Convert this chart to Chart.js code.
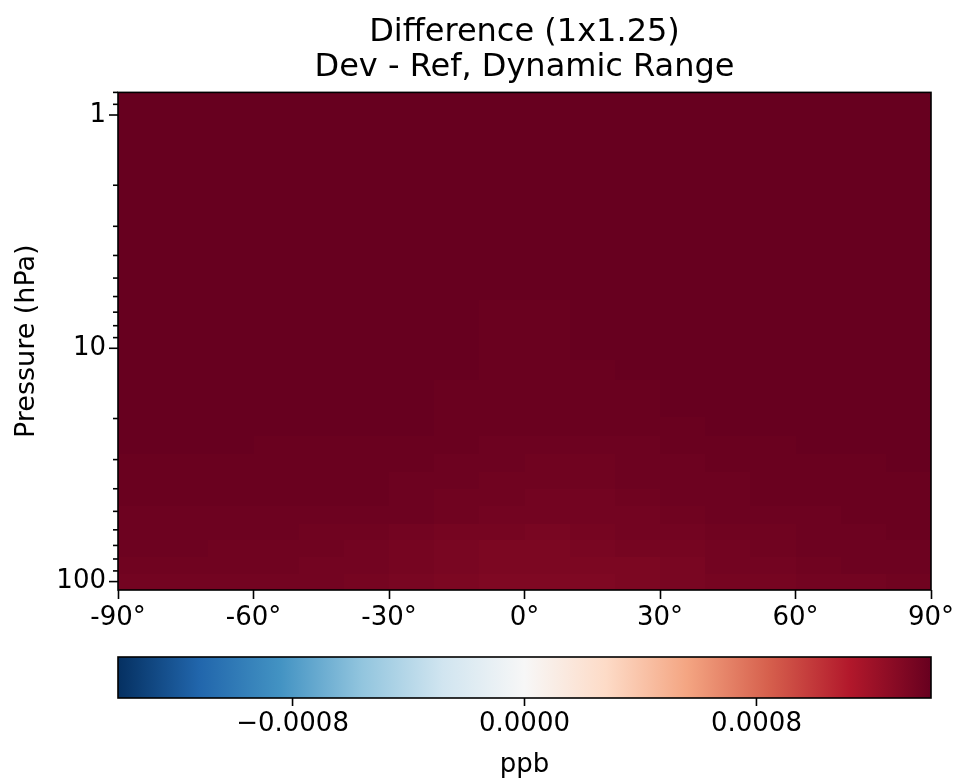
<!DOCTYPE html>
<html>
<head>
<meta charset="utf-8">
<script src="https://cdn.jsdelivr.net/npm/chart.js@4.4.1/dist/chart.umd.min.js"></script>
<style>
  body { margin: 0; background: #fff; }
  #chart { display: block; }
</style>
</head>
<body>
<canvas id="chart" width="955" height="783"></canvas>
<script>
// latitude band edges (deg), south to north
const latitudeEdges = [-90, -80, -70, -60, -50, -40, -30, -20, -10, 0, 10, 20, 30, 40, 50, 60, 70, 80, 90];

// pressure band edges (hPa), bottom to top
const pressureEdges = [108.66, 92.37, 78.51, 66.60, 56.39, 47.64, 40.18, 33.81, 28.37, 23.72, 19.79, 16.46, 13.64,
    11.28, 9.29, 7.63, 6.22, 5.05, 4.07, 3.28, 2.62, 2.09, 1.65, 1.30, 1.01, 0.80];

// Dev - Ref difference in 1e-6 ppb, one row per pressure band (bottom to top), one value per latitude band
const diffRows = [
    [1357, 1357, 1357, 1357, 1350, 1342, 1327, 1316, 1312, 1309, 1309, 1316, 1327, 1338, 1346, 1353, 1353, 1361],
    [1361, 1365, 1368, 1368, 1357, 1353, 1346, 1335, 1324, 1320, 1320, 1324, 1335, 1350, 1353, 1365, 1372, 1376],
    [1376, 1372, 1368, 1368, 1361, 1353, 1346, 1335, 1324, 1324, 1327, 1338, 1346, 1357, 1365, 1372, 1376, 1380],
    [1376, 1376, 1376, 1376, 1368, 1365, 1357, 1346, 1338, 1335, 1342, 1350, 1357, 1365, 1368, 1376, 1380, 1383],
    [1380, 1380, 1380, 1380, 1380, 1380, 1372, 1361, 1353, 1350, 1350, 1357, 1365, 1372, 1380, 1380, 1383, 1383],
    [1383, 1383, 1383, 1383, 1383, 1383, 1376, 1368, 1361, 1357, 1357, 1365, 1372, 1376, 1383, 1383, 1387, 1387],
    [1387, 1387, 1387, 1387, 1387, 1383, 1380, 1372, 1365, 1361, 1365, 1372, 1376, 1380, 1387, 1387, 1391, 1391],
    [1391, 1391, 1391, 1387, 1387, 1387, 1383, 1376, 1372, 1368, 1368, 1376, 1380, 1383, 1387, 1391, 1391, 1395],
    [1395, 1395, 1395, 1391, 1387, 1387, 1387, 1383, 1380, 1376, 1376, 1380, 1383, 1387, 1391, 1395, 1395, 1395],
    [1398, 1398, 1398, 1398, 1398, 1398, 1395, 1391, 1383, 1383, 1383, 1387, 1391, 1395, 1398, 1398, 1398, 1398],
    [1398, 1398, 1398, 1398, 1398, 1395, 1395, 1391, 1387, 1383, 1387, 1391, 1395, 1398, 1398, 1398, 1398, 1398],
    [1398, 1398, 1398, 1398, 1398, 1398, 1395, 1391, 1391, 1387, 1391, 1391, 1395, 1398, 1398, 1398, 1398, 1398],
    [1398, 1398, 1398, 1398, 1398, 1398, 1398, 1395, 1391, 1391, 1391, 1395, 1398, 1398, 1398, 1398, 1398, 1398],
    [1398, 1398, 1398, 1398, 1398, 1398, 1398, 1395, 1391, 1391, 1395, 1398, 1398, 1398, 1398, 1398, 1398, 1398],
    [1398, 1398, 1398, 1398, 1398, 1398, 1395, 1395, 1391, 1391, 1395, 1398, 1398, 1398, 1398, 1398, 1398, 1398],
    [1398, 1398, 1398, 1398, 1398, 1398, 1395, 1395, 1391, 1391, 1395, 1398, 1398, 1398, 1398, 1398, 1398, 1398],
    [1398, 1398, 1398, 1398, 1398, 1398, 1398, 1395, 1393, 1395, 1395, 1398, 1398, 1398, 1398, 1398, 1398, 1398],
    [1400, 1400, 1400, 1400, 1400, 1400, 1400, 1398, 1395, 1395, 1398, 1400, 1400, 1400, 1400, 1400, 1400, 1400],
    [1400, 1400, 1400, 1400, 1400, 1400, 1400, 1400, 1396, 1398, 1400, 1400, 1400, 1400, 1400, 1400, 1400, 1400],
    [1400, 1400, 1400, 1400, 1400, 1400, 1400, 1400, 1400, 1400, 1400, 1400, 1400, 1400, 1400, 1400, 1400, 1400],
    [1401, 1401, 1401, 1401, 1401, 1401, 1401, 1401, 1401, 1401, 1401, 1401, 1401, 1401, 1401, 1401, 1401, 1401],
    [1401, 1401, 1401, 1401, 1401, 1401, 1401, 1401, 1401, 1401, 1401, 1401, 1401, 1401, 1401, 1401, 1401, 1401],
    [1402, 1402, 1402, 1402, 1402, 1402, 1402, 1402, 1402, 1402, 1402, 1402, 1402, 1402, 1402, 1402, 1402, 1402],
    [1402, 1402, 1402, 1402, 1402, 1402, 1402, 1402, 1402, 1402, 1402, 1402, 1402, 1402, 1402, 1402, 1402, 1402],
    [1402, 1402, 1402, 1402, 1402, 1402, 1402, 1402, 1402, 1402, 1402, 1402, 1402, 1402, 1402, 1402, 1402, 1402],
];
const diffUnit = 1e-6; // rows above are in 1e-6 ppb

const latTicks = [-90, -60, -30, 0, 30, 60, 90];
const pressureTicks = [0.8, 0.9, 1, 2, 3, 4, 5, 6, 7, 8, 9, 10, 20, 30, 40, 50, 60, 70, 80, 90, 100];
const pressureLabels = [1, 10, 100];
const colorbarTicks = [-0.0008, 0, 0.0008];

// RdBu_r
const cmapColors = ['#053061', '#2166ac', '#4393c3', '#92c5de', '#d1e5f0', '#f7f7f7',
    '#fddbc7', '#f4a582', '#d6604d', '#b2182b', '#67001f'];

const FONT = 'DejaVu Sans';
Chart.defaults.font.family = FONT;
Chart.defaults.color = '#000';

// dynamic range: symmetric around zero, set by the largest absolute difference
let vmax = 0;
diffRows.forEach(row => row.forEach(v => { vmax = Math.max(vmax, Math.abs(v * diffUnit)); }));

const cmapRgb = cmapColors.map(h => [parseInt(h.slice(1, 3), 16), parseInt(h.slice(3, 5), 16), parseInt(h.slice(5, 7), 16)]);

// 256-level lookup like matplotlib
function cmap(t) {
    const i = Math.min(255, Math.max(0, Math.floor(t * 256)));
    const u = i / 255 * (cmapRgb.length - 1);
    const k = Math.min(Math.floor(u), cmapRgb.length - 2);
    const f = u - k;
    const a = cmapRgb[k], b = cmapRgb[k + 1];
    return 'rgb(' + [0, 1, 2].map(j => Math.round(a[j] + (b[j] - a[j]) * f)).join(',') + ')';
}

function formatCb(v) {
    if (Math.abs(v) < 1e-12) return '0.0000';
    return (v < 0 ? '\u2212' : '') + Math.abs(v).toFixed(4);
}

// horizontal axes: fixed height, and no extra side room for the end labels
function fixHorizontal(height) {
    return s => {
        s.height = height;
        s.paddingLeft = 0;
        s.paddingRight = 0;
    };
}

const heatmapPlugin = {
    id: 'heatmap',
    beforeDatasetsDraw(chart) {
        const { ctx, chartArea, scales } = chart;
        const x = scales.x, y = scales.y;
        ctx.save();
        ctx.beginPath();
        ctx.rect(chartArea.left, chartArea.top, chartArea.width, chartArea.height);
        ctx.clip();
        diffRows.forEach((row, r) => {
            const y0 = Math.round(y.getPixelForValue(pressureEdges[r]));
            const y1 = Math.round(y.getPixelForValue(pressureEdges[r + 1]));
            row.forEach((val, c) => {
                const x0 = Math.round(x.getPixelForValue(latitudeEdges[c]));
                const x1 = Math.round(x.getPixelForValue(latitudeEdges[c + 1]));
                ctx.fillStyle = cmap((val * diffUnit + vmax) / (2 * vmax));
                ctx.fillRect(x0, Math.min(y0, y1), x1 - x0, Math.abs(y1 - y0));
            });
        });
        ctx.restore();
    },
    afterDraw(chart) {
        const { ctx, chartArea, scales } = chart;
        const y = scales.y, cb = scales.cb;
        ctx.save();
        ctx.strokeStyle = '#000';
        ctx.lineWidth = 1.6;

        // frame around the plot
        ctx.strokeRect(chartArea.left, chartArea.top, chartArea.width, chartArea.height);

        // y ticks, long on labelled decades
        pressureTicks.forEach(v => {
            if (v < y.min || v > y.max) return;
            const py = y.getPixelForValue(v);
            const len = pressureLabels.includes(v) ? 9 : 5;
            ctx.beginPath();
            ctx.moveTo(chartArea.left - len, py);
            ctx.lineTo(chartArea.left, py);
            ctx.stroke();
        });

        // colorbar
        const barTop = cb.top + 17, barH = 41;
        const grad = ctx.createLinearGradient(cb.left, 0, cb.right, 0);
        cmapColors.forEach((c, i) => grad.addColorStop(i / (cmapColors.length - 1), c));
        ctx.fillStyle = grad;
        ctx.fillRect(cb.left, barTop, cb.right - cb.left, barH);
        ctx.strokeRect(cb.left, barTop, cb.right - cb.left, barH);
        colorbarTicks.forEach(v => {
            const px = cb.getPixelForValue(v);
            ctx.beginPath();
            ctx.moveTo(px, barTop + barH);
            ctx.lineTo(px, barTop + barH + 8);
            ctx.stroke();
        });
        ctx.restore();
    }
};

new Chart(document.getElementById('chart'), {
    type: 'scatter',
    data: { datasets: [{ data: [] }] },
    options: {
        responsive: false,
        animation: false,
        devicePixelRatio: 1,
        layout: { padding: { left: 0, right: 24, top: 0, bottom: 0 } },
        plugins: {
            legend: { display: false },
            tooltip: { enabled: false },
            title: {
                display: true,
                fullSize: false,
                text: ['Difference (1x1.25)', 'Dev - Ref, Dynamic Range'],
                font: { size: 32, weight: 'normal', lineHeight: 1.1 },
                color: '#000',
                padding: { top: 15, bottom: 7 }
            }
        },
        scales: {
            x: {
                type: 'linear', min: -90, max: 90, position: 'bottom', weight: 0,
                afterBuildTicks: s => { s.ticks = latTicks.map(v => ({ value: v })); },
                afterFit: fixHorizontal(50),
                ticks: { font: { size: 26 }, color: '#000', padding: 4, maxRotation: 0, autoSkip: false,
                    callback: v => v + '°' },
                grid: { drawOnChartArea: false, tickLength: 9, tickWidth: 1.6, tickColor: '#000' },
                border: { display: false }
            },
            cb: {
                type: 'linear', axis: 'x', position: 'bottom', weight: 1, min: -vmax, max: vmax,
                afterBuildTicks: s => { s.ticks = colorbarTicks.map(v => ({ value: v })); },
                afterFit: fixHorizontal(143),
                ticks: { font: { size: 26 }, color: '#000', padding: 4, maxRotation: 0, autoSkip: false,
                    callback: v => formatCb(v) },
                grid: { drawOnChartArea: false, tickLength: 65, tickColor: 'rgba(0,0,0,0)' },
                border: { display: false },
                title: { display: true, text: 'ppb', font: { size: 26 }, color: '#000', padding: { top: 0, bottom: 2 } }
            },
            y: {
                type: 'logarithmic', min: 0.8, max: 108.66, reverse: true, position: 'left',
                afterBuildTicks: s => { s.ticks = pressureTicks.map(v => ({ value: v })); },
                afterFit: s => { s.width = 118; },
                ticks: { font: { size: 26 }, color: '#000', padding: 3, autoSkip: false,
                    callback: v => pressureLabels.includes(v) ? String(v) : '' },
                grid: { drawOnChartArea: false, tickLength: 9, tickColor: 'rgba(0,0,0,0)' },
                border: { display: false },
                title: { display: true, text: 'Pressure (hPa)', font: { size: 27 }, color: '#000', padding: { top: 11, bottom: 0 } }
            }
        }
    },
    plugins: [heatmapPlugin]
});
</script>
</body>
</html>
